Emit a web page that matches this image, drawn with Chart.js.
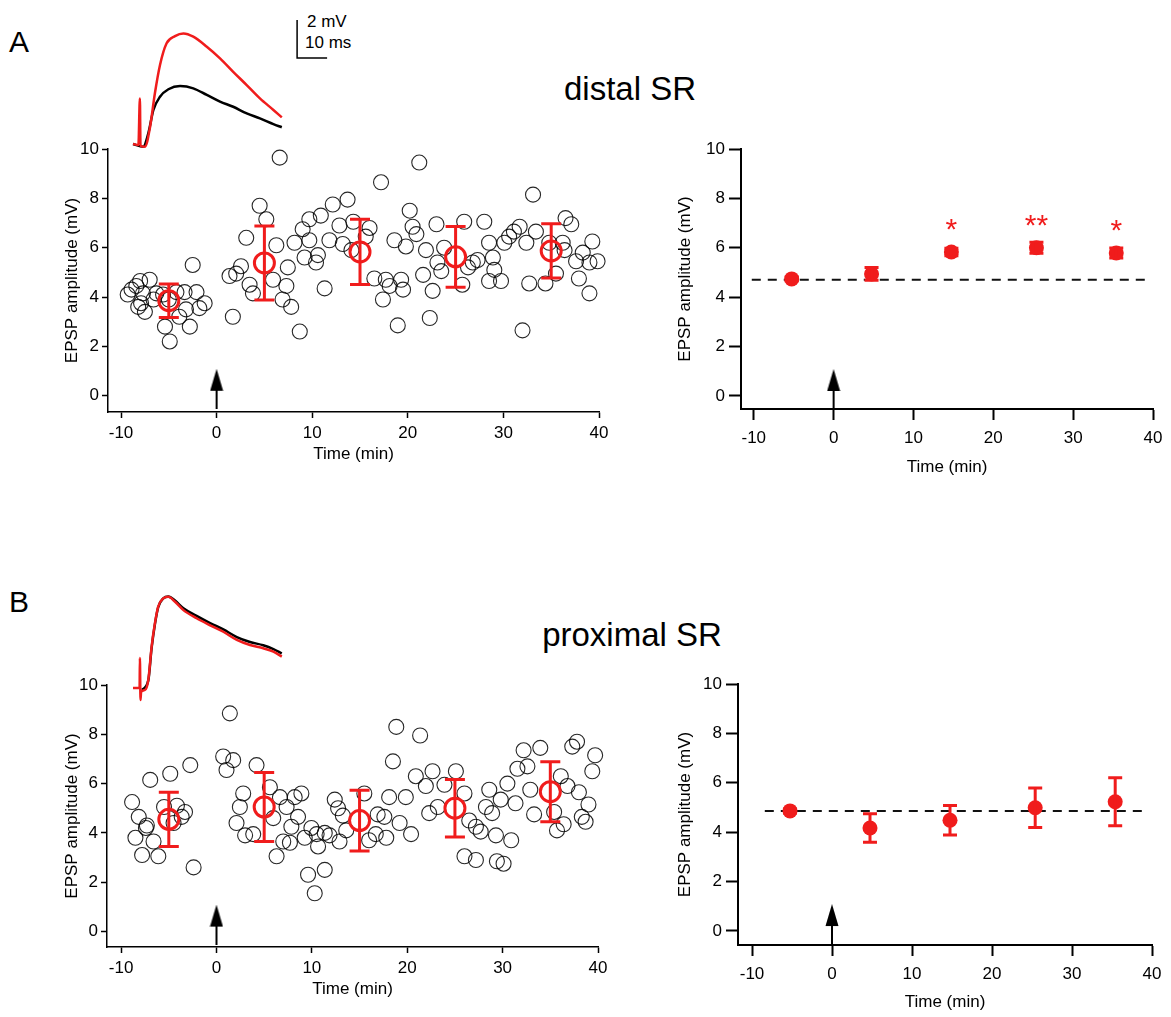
<!DOCTYPE html>
<html>
<head>
<meta charset="utf-8">
<script src="https://cdn.jsdelivr.net/npm/chart.js@4.4.1/dist/chart.umd.min.js"></script>
<style>
  body { margin: 0; background: #fff; }
  #page { position: relative; width: 1171px; height: 1017px; overflow: hidden; background: #fff;
          font-family: Arial, "Liberation Sans", sans-serif; }
  canvas { position: absolute; }
  .lbl { position: absolute; color: #000; white-space: nowrap; line-height: 1; }
</style>
</head>
<body>
<div id="page">
  <div class="lbl" style="left:9px;top:27px;font-size:30px;">A</div>
  <div class="lbl" style="left:9px;top:587px;font-size:30px;">B</div>
  <div class="lbl" style="left:630px;top:72px;font-size:33px;transform:translateX(-50%);">distal SR</div>
  <div class="lbl" style="left:632px;top:618px;font-size:33px;transform:translateX(-50%);">proximal SR</div>
  <div class="lbl" style="left:307px;top:13px;font-size:17px;">2 mV</div>
  <div class="lbl" style="left:305px;top:34px;font-size:17px;">10 ms</div>
</div>
<script>
// ---- data: distal SR, single cell (open circles)
const distalTime = [-9.3, -8.9, -8.4, -8.0, -7.0, -7.7, -7.9, -7.5, -8.2, -6.3, -6.6, -5.6, -5.0, -4.2, -3.35, -2.1, -2.5, -1.25, -1.8, -2.8, -5.4, -4.9, -3.2, -3.9,
  1.7, 1.35, 2.05, 2.55, 3.1, 3.45, 3.8, 4.5, 5.2, 6.25, 5.9, 7.45, 7.3, 6.9, 7.8, 8.7, 6.6, 11.3, 8.15, 9.0, 9.7, 10.9, 9.2, 9.7, 10.4, 10.6,
  11.8, 12.15, 12.85, 13.7, 13.2, 14.1, 14.3, 15.6, 16.0, 16.5, 17.2, 17.7, 18.1, 17.4, 18.6, 19.3, 19.5, 19.8, 18.95, 20.2, 20.5, 20.9, 21.2,
  21.6, 21.9, 22.6, 22.3, 23.0, 23.1, 23.5, 23.8, 25.7, 25.9, 26.3, 26.8, 27.3, 28.0, 28.5, 28.9, 29.05, 28.5, 29.75, 30.1, 30.6, 31.1, 31.7,
  32.0, 32.4, 32.7, 33.1, 33.4, 34.4, 34.8, 35.5, 36.2, 36.4, 36.5, 37.1, 37.6, 37.9, 38.3, 39.0, 39.0, 39.3, 39.85];
const distalAmp = [4.1, 4.3, 4.45, 4.65, 4.7, 4.15, 3.75, 3.4, 3.6, 4.15, 3.9, 4.1, 3.9, 4.2, 4.2, 4.2, 5.3, 3.75, 3.55, 2.8, 2.8, 2.2, 3.5, 3.2,
  3.2, 4.85, 4.95, 5.25, 6.4, 4.5, 4.15, 7.7, 7.15, 6.1, 4.7, 5.2, 4.45, 3.9, 3.6, 2.6, 9.65, 4.35, 6.2, 6.75, 7.15, 7.3, 5.6, 6.3, 5.4, 5.7,
  6.3, 7.75, 6.9, 7.95, 6.15, 5.9, 7.05, 6.45, 6.8, 4.75, 8.65, 4.7, 4.45, 3.9, 6.3, 4.7, 4.3, 6.05, 2.85, 7.5, 6.85, 6.55, 9.45,
  4.9, 5.9, 4.25, 3.15, 6.95, 5.4, 5.05, 6.0, 4.5, 7.05, 5.2, 5.4, 5.5, 7.05, 6.2, 5.6, 5.1, 4.65, 4.65, 6.2, 6.45, 6.65, 6.85,
  2.65, 6.2, 4.55, 8.15, 6.65, 4.55, 6.2, 4.95, 6.2, 5.9, 7.2, 6.95, 5.45, 4.75, 5.8, 5.4, 4.15, 6.25, 5.45];

// ---- data: proximal SR, single cell (open circles)
const proxTime = [-8.85, -8.15, -7.3, -8.5, -7.8, -6.1, -6.6, -6.95, -4.85, -2.75, -5.5, -4.15, -3.3, -3.65, -2.4, -4.5, -7.4,
  0.7, 1.4, 1.75, 1.05, 4.2, 2.8, 2.45, 2.1, 3.0, 3.85, 5.6, 6.65, 5.95, 7.35, 8.2, 8.9, 8.55, 7.85, 7.0, 7.7, 6.3, 9.95, 9.25, 10.5,
  10.65, 11.35, 11.85, 12.9, 12.4, 12.75, 13.25, 13.6, 9.6, 11.35, 10.3, 15.5, 16.0, 16.7, 16.9, 17.6, 17.8, 18.1, 18.5, 18.85, 19.2,
  19.85, 20.4, 20.9, 21.35, 21.95, 22.3, 22.65, 23.2, 23.9, 25.1, 26.0, 26.0, 26.5, 27.2, 27.2, 27.7, 28.25, 28.6, 28.9, 29.3, 29.4,
  29.8, 30.1, 30.5, 30.9, 31.35, 31.55, 32.2, 32.6, 32.9, 33.3, 33.95, 35.4, 35.7, 36.1, 36.4, 36.8, 37.3, 37.8, 38.0, 38.3, 38.7,
  39.0, 39.4, 39.7];
const proxAmp = [5.25, 4.65, 4.3, 3.8, 3.1, 3.05, 3.65, 6.15, 6.4, 6.75, 5.05, 5.1, 4.85, 4.65, 2.6, 4.4, 4.2,
  7.1, 8.85, 6.95, 6.55, 6.75, 5.6, 5.05, 4.4, 3.9, 3.95, 5.85, 5.45, 4.6, 5.05, 5.45, 5.6, 4.65, 4.25, 3.65, 3.6, 3.05, 4.2, 3.8, 3.95,
  3.45, 4.0, 3.9, 3.65, 5.35, 5.0, 4.7, 4.1, 2.3, 2.5, 1.55, 5.6, 3.7, 3.95, 4.75, 4.65, 3.8, 5.45, 6.9, 8.3, 4.4,
  5.45, 3.95, 6.3, 7.95, 5.9, 4.8, 6.5, 5.05, 5.95, 6.5, 5.6, 3.05, 4.5, 4.25, 2.9, 4.05, 5.05, 5.75, 4.8, 3.9, 2.85,
  5.35, 2.75, 6.0, 3.7, 5.2, 6.6, 7.35, 6.7, 5.75, 4.75, 7.45, 4.85, 4.1, 6.3, 4.35, 5.9, 7.5, 7.7, 5.65, 4.65, 4.45,
  5.15, 6.5, 7.15];

// ---- 10-min bin means (red)
const binTime = [-5, 5, 15, 25, 35];
const distalMean = [3.85, 5.38, 5.83, 5.63, 5.87];
const distalErr = [0.68, 1.5, 1.32, 1.23, 1.1];
const proxMean = [4.55, 5.05, 4.5, 5.0, 5.67];
const proxErr = [1.1, 1.4, 1.23, 1.17, 1.22];

// ---- group averages (right panels)
const groupTime = [-5.25, 4.75, 14.75, 25.4, 35.4];
const distalGroup = [4.74, 4.94, 5.83, 6.0, 5.79];
const distalGroupErr = [0.08, 0.26, 0.15, 0.22, 0.2];
const proxGroup = [4.86, 4.17, 4.48, 4.99, 5.23];
const proxGroupErr = [0.08, 0.58, 0.6, 0.8, 0.97];
const distalBaseline = 4.7;
const proxBaseline = 4.86;
const distalDashSpan = [-10.25, 39.5];
const proxDashSpan = [-8.4, 39.0];
const starTime = [14.75, 25.4, 35.4];
const starLevel = [7.05, 7.2, 7.0];
const starText = ['*', '**', '*'];
const arrowTime = 0;
const arrowLevel = 0.28;

// ---- example EPSP traces (ms, mV)
const aRedMs = [0, 1.8, 2.3, 2.5, 4, 5.7, 7.3, 9, 11.2, 14, 16.8, 20.1, 24.6, 29, 33.4, 37.9, 42.3, 46.8, 49.6];
const aRedMv = [0, -0.05, 2.4, -0.1, -0.14, 0.91, 2.67, 4.16, 5.3, 5.68, 5.82, 5.65, 5.12, 4.51, 3.8, 3.1, 2.4, 1.79, 1.4];
const aBlackMs = [0, 3.4, 5.1, 6.8, 9, 11.8, 15.7, 20.1, 24.6, 29, 33.4, 37.9, 42.3, 46.8, 49.6];
const aBlackMv = [0, -0.14, 0.56, 1.79, 2.49, 2.88, 3.05, 2.93, 2.58, 2.23, 1.96, 1.61, 1.35, 1.05, 0.88];
const bRedMs = [0, 2.2, 2.3, 2.5, 2.7, 4, 5.1, 6.2, 7.3, 8.4, 10.1, 11.8, 14, 16.8, 21.2, 25.7, 30.1, 34.6, 39, 43.4, 46.8, 49.6];
const bRedMv = [0, 0, 1.58, -0.63, -0.2, -0.1, 0.42, 2.17, 3.4, 4.28, 4.72, 4.8, 4.54, 4.1, 3.67, 3.3, 2.96, 2.53, 2.26, 2.09, 1.91, 1.65];
const bBlackMs = [3, 5.1, 6.2, 7.3, 8.4, 10.1, 11.8, 14, 16.8, 21.2, 25.7, 30.1, 34.6, 39, 43.4, 46.8, 49.6];
const bBlackMv = [-0.1, 0.4, 2.1, 3.35, 4.25, 4.72, 4.82, 4.6, 4.2, 3.8, 3.42, 3.08, 2.68, 2.42, 2.25, 2.05, 1.82];
const scaleBarMs = [54.7, 54.7, 64.7];
const scaleBarMv = [6.53, 4.53, 4.53];

const RED = '#f01c1c';

Chart.defaults.font.family = 'Arial, "Liberation Sans", sans-serif';
Chart.defaults.color = '#000';

function pts(xs, ys) {
  return xs.map((x, i) => ({ x: x, y: ys[i] }));
}

function addCanvas(left, top, w, h) {
  const c = document.createElement('canvas');
  c.width = w; c.height = h;
  c.style.left = left + 'px'; c.style.top = top + 'px';
  c.style.width = w + 'px'; c.style.height = h + 'px';
  document.getElementById('page').appendChild(c);
  return c;
}

// error bars drawn with the chart's own scales
const errorBars = {
  id: 'errorBars',
  afterDatasetsDraw(chart) {
    const ctx = chart.ctx, xs = chart.scales.x, ys = chart.scales.y;
    chart.data.datasets.forEach(ds => {
      if (!ds.errors) return;
      ctx.save();
      ctx.strokeStyle = ds.borderColor === 'transparent' ? ds.backgroundColor : ds.borderColor;
      ctx.lineWidth = ds.errorWidth;
      ds.data.forEach((p, j) => {
        const x = xs.getPixelForValue(p.x);
        const top = ys.getPixelForValue(p.y + ds.errors[j]);
        const bot = ys.getPixelForValue(p.y - ds.errors[j]);
        const c = ds.capWidth / 2;
        ctx.beginPath();
        ctx.moveTo(x, top); ctx.lineTo(x, bot);
        ctx.moveTo(x - c, top); ctx.lineTo(x + c, top);
        ctx.moveTo(x - c, bot); ctx.lineTo(x + c, bot);
        ctx.stroke();
      });
      ctx.restore();
    });
  }
};

const starsPlugin = {
  id: 'stars',
  afterDatasetsDraw(chart, args, opts) {
    if (!opts.x || !opts.x.length) return;
    const ctx = chart.ctx;
    ctx.save();
    ctx.fillStyle = RED;
    ctx.font = opts.size + 'px Arial, "Liberation Sans", sans-serif';
    ctx.textAlign = 'center';
    ctx.textBaseline = 'middle';
    opts.x.forEach((v, i) => {
      ctx.fillText(opts.text[i], chart.scales.x.getPixelForValue(v),
        chart.scales.y.getPixelForValue(opts.y[i]) + opts.size * 0.28);
    });
    ctx.restore();
  }
};

function arrowImage() {
  const c = document.createElement('canvas');
  c.width = 14; c.height = 40;
  const g = c.getContext('2d');
  g.fillStyle = '#000';
  g.beginPath(); g.moveTo(7, 0); g.lineTo(13.5, 22); g.lineTo(0.5, 22); g.closePath(); g.fill();
  g.fillRect(6, 20, 2, 20);
  return c;
}
const ARROW = arrowImage();

function arrowSet() {
  return { data: [{ x: arrowTime, y: arrowLevel }], pointStyle: ARROW, pointRadius: 7, clip: false };
}

function makePanel(p) {
  const lh = p.fs * 1.2;
  const yW = Math.round(p.yTitleGap + lh / 2);
  const xH = Math.round(p.xTitleGap + lh / 2);
  const w = Math.round(p.box.r - p.box.l) + yW + 20;
  const h = Math.round(p.box.b - p.box.t) + 20 + xH;
  const c = addCanvas(p.box.l - yW, p.box.t - 20, w, h);
  new Chart(c, {
    type: 'scatter',
    data: { datasets: p.datasets },
    options: {
      responsive: false, devicePixelRatio: 1, animation: false, events: [],
      layout: { padding: { left: 0, top: 20, right: 20, bottom: 0 } },
      plugins: { legend: { display: false }, tooltip: { enabled: false }, stars: p.stars || { x: [] } },
      scales: {
        x: {
          type: 'linear', min: p.xMin, max: 40,
          afterFit: s => { s.height = xH; },
          border: { color: '#000', width: p.axisW },
          grid: { drawOnChartArea: false, tickColor: '#000', tickLength: p.xTick, tickWidth: p.axisW },
          ticks: { stepSize: 10, includeBounds: false, padding: p.xPad, font: { size: p.fs }, color: '#000', maxRotation: 0 },
          title: { display: true, text: 'Time (min)', font: { size: p.fs }, padding: 0, color: '#000' }
        },
        y: {
          type: 'linear', min: p.yMin, max: 10,
          afterFit: s => { s.width = yW; },
          border: { color: '#000', width: p.axisW },
          grid: { drawOnChartArea: false, tickColor: '#000', tickLength: p.yTick, tickWidth: p.axisW },
          ticks: { stepSize: 2, includeBounds: false, padding: p.yPad, font: { size: p.fs }, color: '#000' },
          title: { display: true, text: 'EPSP amplitude (mV)', font: { size: p.fs }, padding: 0, color: '#000' }
        }
      }
    },
    plugins: [errorBars, starsPlugin]
  });
}

function cellSets(t, a, mean, err) {
  return [
    { data: pts(binTime, mean), pointRadius: 10, borderWidth: 3, borderColor: RED, backgroundColor: 'transparent',
      errors: err, capWidth: 20, errorWidth: 3, clip: false },
    { data: pts(t, a), pointRadius: 7.5, borderWidth: 1.1, borderColor: 'rgba(0,0,0,0.85)', backgroundColor: 'transparent', clip: false },
    arrowSet()
  ];
}

function groupSets(mean, err, base, span) {
  return [
    { data: pts(groupTime, mean), pointRadius: 7.5, borderWidth: 0, borderColor: 'transparent', backgroundColor: RED,
      errors: err, capWidth: 14, errorWidth: 3, clip: false },
    { data: pts(span, [base, base]), showLine: true, pointRadius: 0, borderColor: '#111', borderWidth: 2, borderDash: [9, 7] },
    arrowSet()
  ];
}

makePanel({ box: { l: 108, r: 599, t: 149, b: 412 }, xMin: -11.36, yMin: -0.66, fs: 17, axisW: 1.5,
  xTick: 6, xPad: 5, yTick: 6, yPad: 3, yTitleGap: 36, xTitleGap: 43,
  datasets: cellSets(distalTime, distalAmp, distalMean, distalErr) });

makePanel({ box: { l: 741, r: 1153, t: 149, b: 409 }, xMin: -11.6, yMin: -0.53, fs: 17, axisW: 2,
  xTick: 11, xPad: 8, yTick: 12, yPad: 4, yTitleGap: 56, xTitleGap: 59,
  datasets: groupSets(distalGroup, distalGroupErr, distalBaseline, distalDashSpan),
  stars: { x: starTime, y: starLevel, text: starText, size: 30 } });

makePanel({ box: { l: 107, r: 598, t: 685, b: 947 }, xMin: -11.48, yMin: -0.63, fs: 17, axisW: 1.5,
  xTick: 6, xPad: 5, yTick: 6, yPad: 3, yTitleGap: 35, xTitleGap: 43,
  datasets: cellSets(proxTime, proxAmp, proxMean, proxErr) });

makePanel({ box: { l: 738, r: 1152, t: 684, b: 945 }, xMin: -11.75, yMin: -0.57, fs: 17, axisW: 2,
  xTick: 11, xPad: 8, yTick: 12, yPad: 4, yTitleGap: 53, xTitleGap: 58,
  datasets: groupSets(proxGroup, proxGroupErr, proxBaseline, proxDashSpan) });

// ---- traces: 3 px per ms, 19 px per mV
function makeTrace(left, top, tMin, tMax, vMin, vMax, datasets) {
  const c = addCanvas(left, top, (tMax - tMin) * 3, (vMax - vMin) * 19);
  new Chart(c, {
    type: 'scatter',
    data: { datasets: datasets },
    options: {
      responsive: false, devicePixelRatio: 1, animation: false, events: [],
      layout: { padding: 0 },
      plugins: { legend: { display: false }, tooltip: { enabled: false } },
      scales: {
        x: { type: 'linear', display: false, min: tMin, max: tMax },
        y: { type: 'linear', display: false, min: vMin, max: vMax }
      }
    }
  });
}

function traceSet(ms, mv, color, width) {
  return { data: pts(ms, mv), showLine: true, pointRadius: 0, borderColor: color, borderWidth: width,
    cubicInterpolationMode: 'monotone', clip: false };
}

makeTrace(118, 11, -5, 70, -2, 7, [
  traceSet(aRedMs, aRedMv, RED, 2.5),
  traceSet(aBlackMs, aBlackMv, '#000', 2.5),
  { data: pts(scaleBarMs, scaleBarMv), showLine: true, pointRadius: 0, borderColor: '#000', borderWidth: 1.5, clip: false }
]);

makeTrace(118, 555, -5, 70, -2, 7, [
  traceSet(bRedMs, bRedMv, RED, 2.5),
  traceSet(bBlackMs, bBlackMv, '#000', 2.5)
]);
</script>
</body>
</html>
